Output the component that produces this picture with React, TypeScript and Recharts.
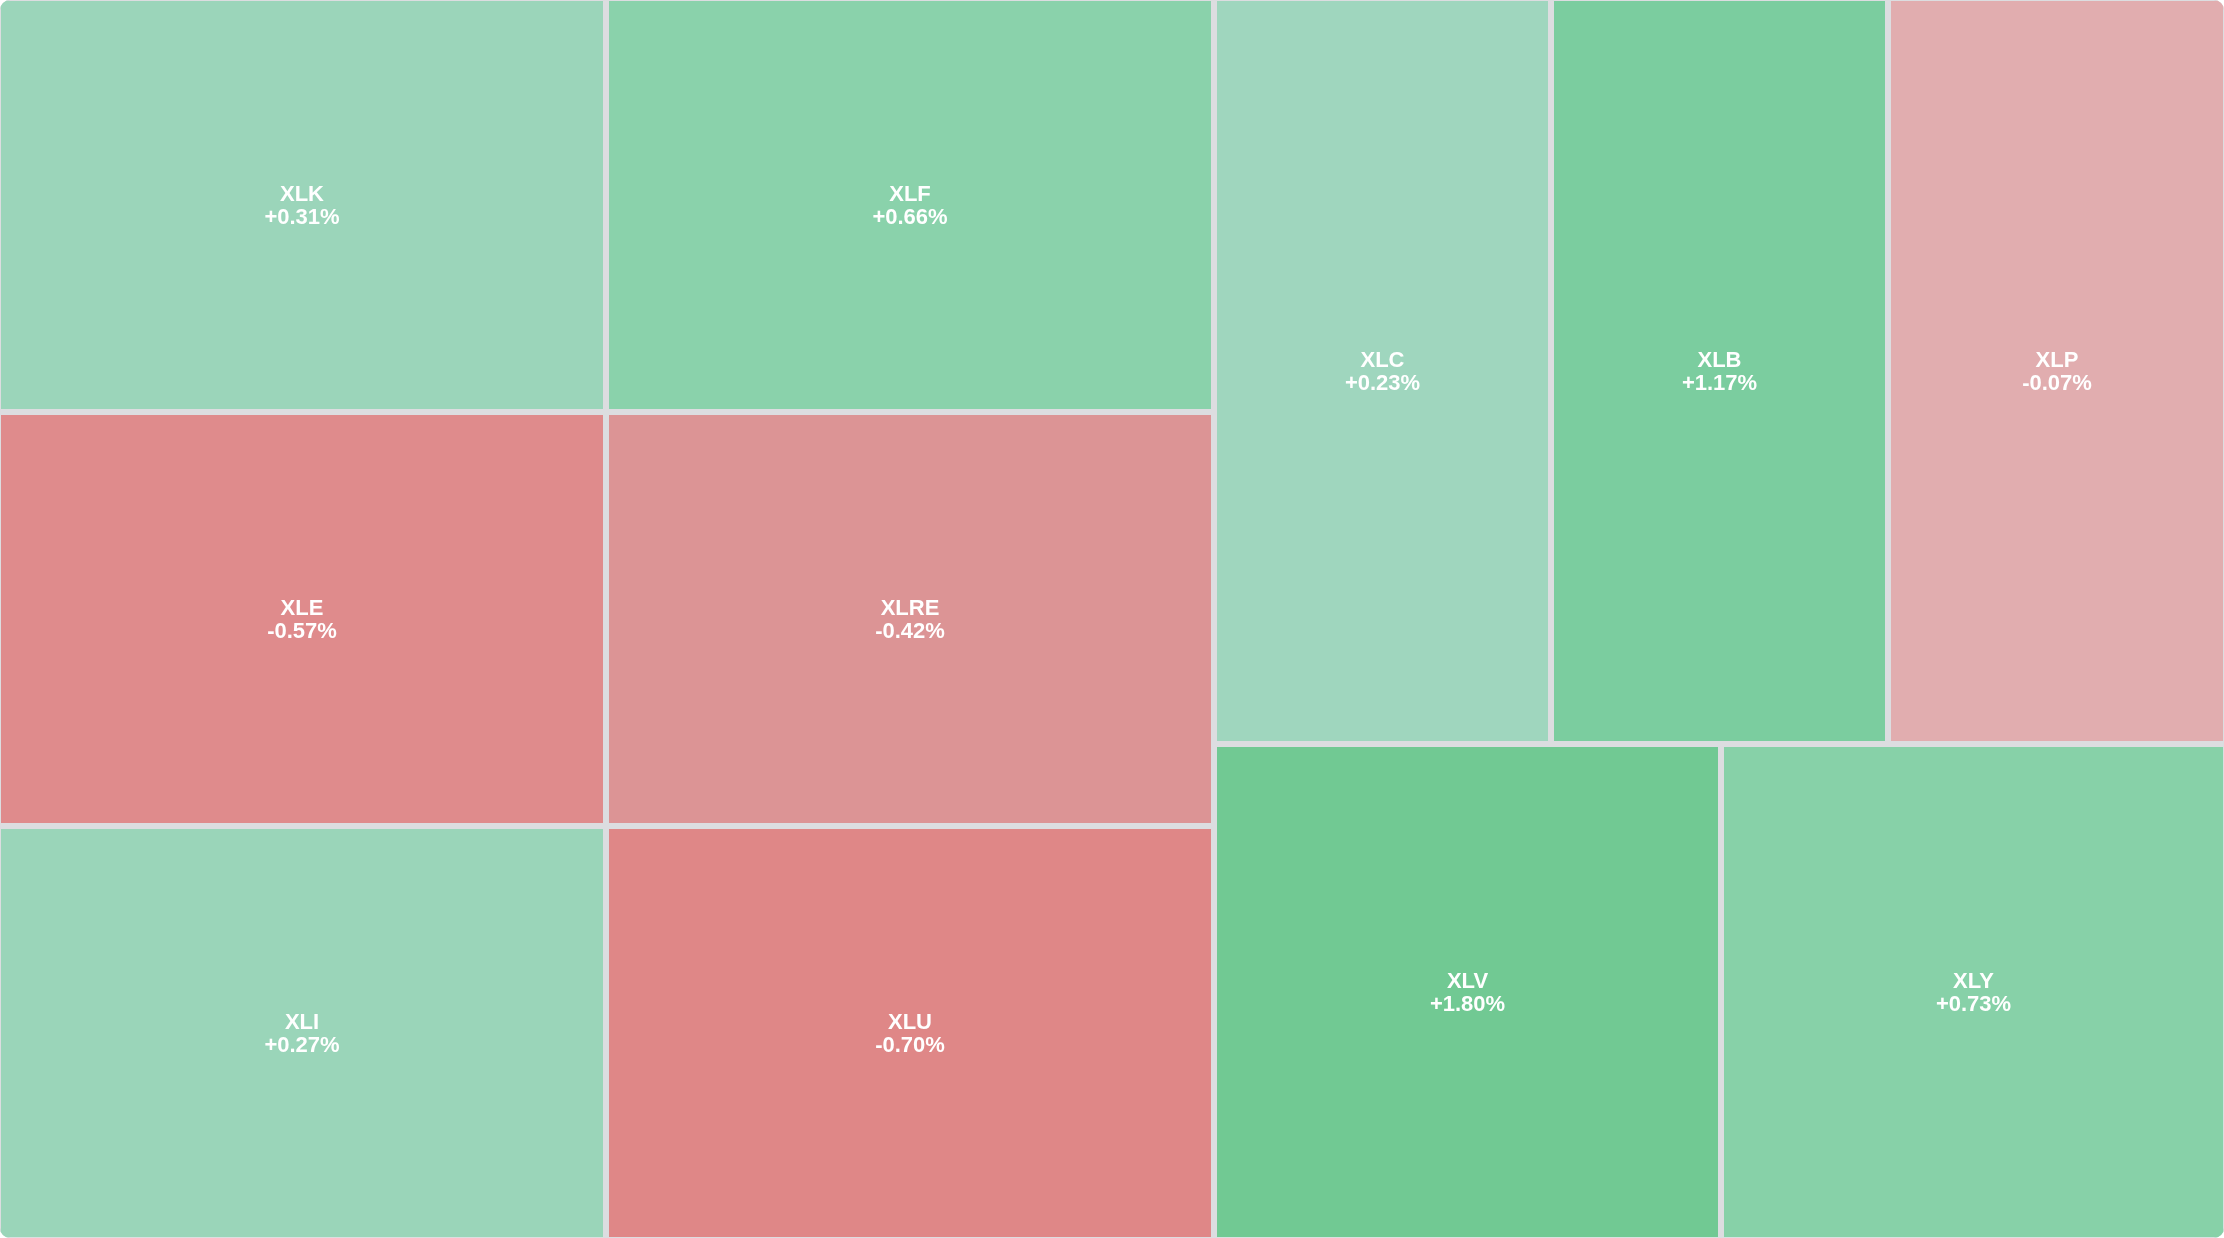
import { Treemap } from 'recharts';

// sector ETFs, laid out top-left to bottom-right in squarify order
const tickers = ['XLK', 'XLE', 'XLI', 'XLF', 'XLRE', 'XLU', 'XLC', 'XLB', 'XLP', 'XLV', 'XLY'];
const changes = [0.31, -0.57, 0.27, 0.66, -0.42, -0.7, 0.23, 1.17, -0.07, 1.8, 0.73];
const weights = [1, 1, 1, 1, 1, 1, 1, 1, 1, 1, 1];

const cellColors: Record<string, string> = {
  XLK: '#9bd5ba',
  XLE: '#df8b8c',
  XLI: '#9ad5b9',
  XLF: '#8ad2ab',
  XLRE: '#dc9495',
  XLU: '#df8787',
  XLC: '#9fd6be',
  XLB: '#7bcd9f',
  XLP: '#e1adaf',
  XLV: '#71c993',
  XLY: '#87d1a8',
};

const data = tickers.map((name, i) => ({
  name,
  value: weights[i],
  change: changes[i],
}));

const GAP = '#dcdde0';

const formatChange = (v: number) => `${v >= 0 ? '+' : ''}${v.toFixed(2)}%`;

const CustomCell = (props: any) => {
  const { x, y, width, height, depth, name, change } = props;
  if (depth === 0 || name === undefined) return null;
  const cx = x + width / 2;
  const cy = y + height / 2;
  return (
    <g>
      <rect
        x={x}
        y={y}
        width={width}
        height={height}
        fill={cellColors[name]}
        stroke={GAP}
        strokeWidth={6}
      />
      <text
        x={cx}
        y={cy - 12}
        textAnchor="middle"
        dominantBaseline="central"
        fill="#ffffff"
        fontSize={22}
        fontWeight={700}
        fontFamily="'Liberation Sans', Arial, sans-serif"
      >
        {name}
      </text>
      <text
        x={cx}
        y={cy + 11}
        textAnchor="middle"
        dominantBaseline="central"
        fill="#ffffff"
        fontSize={22}
        fontWeight={700}
        fontFamily="'Liberation Sans', Arial, sans-serif"
      >
        {formatChange(change)}
      </text>
    </g>
  );
};

export default function App() {
  return (
    <div
      style={{
        position: 'fixed',
        left: 0,
        top: 0,
        width: 2224,
        height: 1238,
        borderRadius: 10,
        overflow: 'hidden',
        background: GAP,
      }}
    >
      <div style={{ position: 'absolute', left: -2, top: -2 }}>
        <Treemap
          width={2228}
          height={1242}
          data={data}
          dataKey="value"
          nameKey="name"
          isAnimationActive={false}
          content={<CustomCell />}
        />
      </div>
    </div>
  );
}
